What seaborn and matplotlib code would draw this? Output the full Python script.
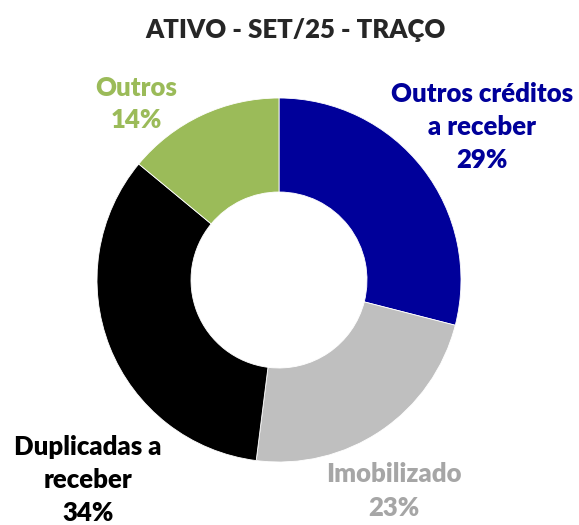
import matplotlib.pyplot as plt
import seaborn as sns

sns.set_style("white")
plt.rcParams['font.family'] = ['Lato', 'DejaVu Sans']

title = "ATIVO - SET/25 - TRAÇO"
categories = ["Outros créditos\na receber", "Imobilizado", "Duplicadas a\nreceber", "Outros"]
values = [29, 23, 34, 14]
colors = ["#00009A", "#BFBFBF", "#000000", "#9BBB59"]
text_colors = ["#00009A", "#A6A6A6", "#000000", "#9BBB59"]
# label anchor positions in pixel coords (x, y from top)
label_pos = [(482, 127), (394, 491), (88, 480), (136, 104)]

fig = plt.figure(figsize=(5.79, 5.25), dpi=100)
ax = fig.add_axes([0, 0, 1, 1])

ax.pie(values, colors=colors, startangle=90, counterclock=False,
       center=(279, 245), radius=182, frame=True,
       wedgeprops=dict(width=94, edgecolor="white", linewidth=0.6))
ax.set_xlim(0, 579)
ax.set_ylim(0, 525)
ax.set_aspect("equal")
ax.axis("off")

for cat, val, col, (x, y) in zip(categories, values, text_colors, label_pos):
    ax.text(x, 525 - y, f"{cat}\n{val}%", color=col, fontsize=18.5, fontweight="heavy",
            ha="center", va="center", linespacing=1.45)

ax.text(296, 525 - 30, title, fontsize=18.5, fontweight="heavy", ha="center", va="center")

fig.savefig("out.png", dpi=100)
plt.close(fig)
